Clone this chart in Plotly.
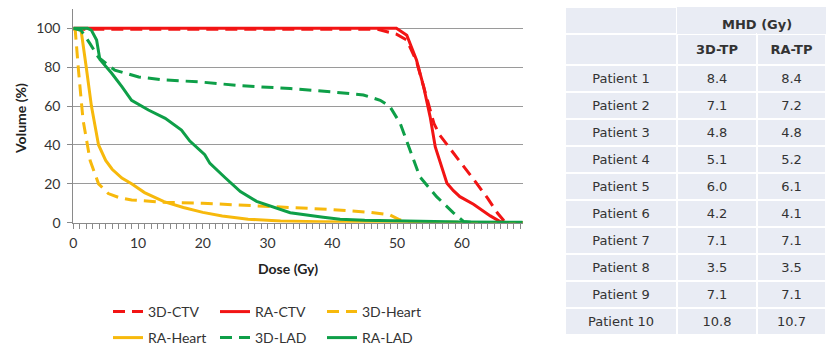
import plotly.graph_objects as go

# ---------------- DVH data (Dose in Gy, Volume in %) ----------------
ctv3d_dose = [0, 47, 49.9, 51.5, 53.0, 54.1, 55.1, 55.7, 56.6, 58.0, 60.0, 62.0, 64.0, 65.5, 66.5, 67.5, 69.4]
ctv3d_vol = [99.5, 99.5, 97, 94, 83, 70, 57, 51, 45, 39, 30.5, 21.5, 12.5, 5, 1, 0, 0]

ctvra_dose = [0, 49.9, 51.5, 53.0, 54.1, 55.1, 55.9, 57.2, 57.7, 58.7, 59.7, 61.8, 63.2, 64.4, 65.9, 67.0, 69.4]
ctvra_vol = [100, 100, 96.5, 83.7, 70, 54.6, 39, 25.4, 20.3, 16.5, 13.4, 9.5, 6.2, 3.5, 0.6, 0, 0]

heart3d_dose = [0, 0.3, 0.8, 1.5, 2.6, 3.9, 5.4, 7.0, 9.0, 14.0, 20.0, 27.0, 33.5, 39.7, 45.8, 48.9, 50.4, 52.0, 69.4]
heart3d_vol = [100, 99, 78.5, 53, 32, 20, 15, 13, 11.7, 10.5, 10, 9, 7.7, 6.8, 5.3, 4, 1.5, 0.3, 0]

heartra_dose = [0, 1.2, 2.0, 2.8, 3.9, 5.0, 6.0, 7.5, 9.0, 11.0, 14.0, 17.0, 20.0, 23.0, 27.0, 32.0, 38.0, 45.0, 55.0, 69.4]
heartra_vol = [100, 99, 80, 60, 40, 32, 27.5, 23, 20, 15.5, 10.8, 7.8, 5.3, 3.5, 1.8, 0.9, 0.5, 0.2, 0.05, 0]

lad3d_dose = [0, 1.2, 2.6, 3.9, 6.4, 10.1, 14.2, 19.3, 25.8, 33.5, 39.7, 44.8, 47.4, 48.9, 50.5, 52.0, 53.5, 56.1, 58.7, 60.3, 62.0, 69.4]
lad3d_vol = [100, 99, 92, 85, 78.5, 75, 73.4, 72.5, 70.5, 69, 67.4, 65.7, 63, 59.7, 51, 37.4, 23.7, 13.4, 5.1, 0.6, 0.1, 0]

ladra_dose = [0, 2.2, 2.8, 3.6, 4.1, 5.9, 7.5, 9.0, 11.6, 14.2, 16.7, 18.0, 20.3, 21.1, 23.5, 25.8, 28.3, 33.5, 38.6, 41.2, 45, 52, 60, 69.4]
ladra_vol = [100, 100, 99, 94, 84, 77, 70, 63, 58, 53.7, 47.7, 42, 35, 30.5, 23, 16, 11, 5.1, 2.8, 1.8, 1.2, 0.6, 0.3, 0.2]

# ---------------- Table data ----------------
patients = ["Patient 1", "Patient 2", "Patient 3", "Patient 4", "Patient 5",
            "Patient 6", "Patient 7", "Patient 8", "Patient 9", "Patient 10"]
mhd_3d = ["8.4", "7.1", "4.8", "5.1", "6.0", "4.2", "7.1", "3.5", "7.1", "10.8"]
mhd_ra = ["8.4", "7.2", "4.8", "5.2", "6.1", "4.1", "7.1", "3.5", "7.1", "10.7"]

x_ticks = [0, 10, 20, 30, 40, 50, 60]
y_ticks = [0, 20, 40, 60, 80, 100]

RED = "#f21414"
GOLD = "#f7b90c"
GREEN = "#0e9f48"
DASH = "12px,7px"
FONT = "Lato"
TFONT = "DejaVu Sans"
TFILL = "#e9ecf4"

W, H = 826, 360

fig = go.Figure()

series = [
    ("3D-CTV", ctv3d_dose, ctv3d_vol, RED, DASH, "legend"),
    ("RA-CTV", ctvra_dose, ctvra_vol, RED, "solid", "legend"),
    ("3D-Heart", heart3d_dose, heart3d_vol, GOLD, DASH, "legend"),
    ("RA-Heart", heartra_dose, heartra_vol, GOLD, "solid", "legend2"),
    ("3D-LAD", lad3d_dose, lad3d_vol, GREEN, DASH, "legend2"),
    ("RA-LAD", ladra_dose, ladra_vol, GREEN, "solid", "legend2"),
]
for name, xs, ys, col, dash, leg in series:
    fig.add_trace(go.Scatter(x=xs, y=ys, name=name, mode="lines",
                             line=dict(color=col, width=3, dash=dash),
                             legend=leg, hoverinfo="skip"))

# Table
header_row = ["", "<b>3D-TP</b>", "<b>RA-TP</b>"]
fig.add_trace(go.Table(
    domain=dict(x=[565 / W, 1], y=[0, 1 - 7 / H]),
    columnwidth=[112, 80, 69],
    header=dict(values=["", "", ""], height=27,
                fill_color=TFILL, line=dict(color="white", width=[2, 0, 0]),
                font=dict(family=TFONT, size=13, color="#333")),
    cells=dict(values=[[header_row[0]] + patients,
                       [header_row[1]] + mhd_3d,
                       [header_row[2]] + mhd_ra],
               height=27, align="center",
               fill_color=TFILL, line=dict(color="white", width=2),
               font=dict(family=TFONT, size=13, color="#333")),
))

fig.update_layout(
    width=W, height=H,
    margin=dict(l=0, r=0, t=0, b=0, autoexpand=False),
    paper_bgcolor="white", plot_bgcolor="white",
    font=dict(family=FONT, size=14, color="#333"),
    xaxis=dict(domain=[73.3 / W, 522.7 / W], range=[0, 69.4],
               tickvals=x_ticks, showgrid=False, zeroline=False,
               showline=True, linecolor="#8a8a8a", linewidth=1,
               ticks="outside", ticklen=5, tickcolor="#8a8a8a",
               minor=dict(dtick=1, ticks="outside", ticklen=5, tickcolor="#8a8a8a"),
               ticklabelstandoff=2,
               tickfont=dict(family=FONT, size=14, color="#333")),
    yaxis=dict(domain=[1 - 222.7 / H, 1 - 8.9 / H], range=[0, 110],
               tickvals=y_ticks, showgrid=True, gridcolor="#9a9a9a", gridwidth=1,
               zeroline=False, showline=True, linecolor="#8a8a8a", linewidth=1,
               ticks="outside", ticklen=5, tickcolor="#8a8a8a",
               ticklabelstandoff=4,
               tickfont=dict(family=FONT, size=14, color="#333")),
    legend=dict(orientation="h", x=108 / W, xanchor="left", y=1 - 312 / H, yanchor="middle",
                entrywidth=62, entrywidthmode="pixels", traceorder="normal",
                font=dict(family=FONT, size=14, color="#333"), bgcolor="rgba(0,0,0,0)"),
    legend2=dict(orientation="h", x=108 / W, xanchor="left", y=1 - 338 / H, yanchor="middle",
                 entrywidth=62, entrywidthmode="pixels", traceorder="normal",
                 font=dict(family=FONT, size=14, color="#333"), bgcolor="rgba(0,0,0,0)"),
    annotations=[
        dict(text="<b>Dose (Gy)</b>", x=288 / W, y=1 - 268 / H, xref="paper", yref="paper",
             xanchor="center", yanchor="middle", showarrow=False,
             font=dict(family=FONT, size=14, color="#222")),
        dict(text="<b>Volume (%)</b>", x=21 / W, y=1 - 119 / H, xref="paper", yref="paper",
             xanchor="center", yanchor="middle", showarrow=False, textangle=-90,
             font=dict(family=FONT, size=14, color="#222")),
        dict(text="<b>MHD (Gy)</b>", x=757 / W, y=1 - 25 / H, xref="paper", yref="paper",
             xanchor="center", yanchor="middle", showarrow=False,
             font=dict(family=TFONT, size=13, color="#333")),
    ],
)

fig.write_html("out.html")
